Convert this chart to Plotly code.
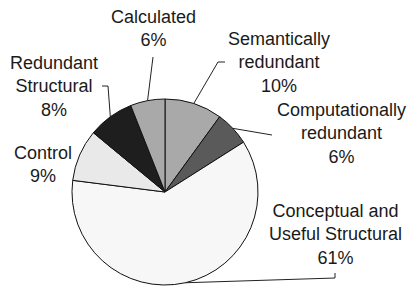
import math
import plotly.graph_objects as go

# ---- data (clockwise from 12 o'clock) ----
categories = ["Semantically<br>redundant", "Computationally<br>redundant",
              "Conceptual and<br>Useful Structural", "Control",
              "Redundant<br>Structural", "Calculated"]
values = [10, 6, 61, 9, 8, 6]
colors = ["#a9a9a9", "#5a5a5a", "#f7f7f7", "#e9e9e9", "#1e1e1e", "#a9a9a9"]

W, H = 409, 286
CX, CY, R = 165, 192, 93  # pie geometry in pixels

# label block centres (px) and leader-line extra points (px)
label_pos = [(279, 62), (341, 133), (335, 234), (43, 164), (54, 86), (153, 28)]
leader_pts = [[(218, 62), (225, 62)],
              [(272, 135)],
              [(335, 278), (335, 273)],
              None,
              [(108, 86), (102, 86)],
              [(153, 57)]]

total = sum(values)
fig = go.Figure()
fig.add_trace(go.Pie(
    values=values, labels=categories, sort=False, direction="clockwise",
    rotation=0, textinfo="none", hoverinfo="label+percent",
    marker=dict(colors=colors, line=dict(color="#111111", width=1)),
    domain=dict(x=[(CX - R) / W, (CX + R) / W],
                y=[(H - CY - R) / H, (H - CY + R) / H]),
    showlegend=False,
))

shapes = []
annotations = []
cum = 0
for cat, v, pos, pts in zip(categories, values, label_pos, leader_pts):
    mid = (cum + v / 2) / total * 2 * math.pi
    cum += v
    px = CX + R * math.sin(mid)
    py = CY - R * math.cos(mid)
    pct = round(v / total * 100)
    annotations.append(dict(
        x=pos[0], y=pos[1], xref="x", yref="y", text=f"{cat}<br>{pct}%",
        showarrow=False, xanchor="center", yanchor="middle", align="center",
        font=dict(family="Liberation Sans, Arial, sans-serif", size=18, color="#1a1a1a"),
    ))
    if pts:
        path = f"M{px},{py}" + "".join(f" L{x},{y}" for x, y in pts)
        shapes.append(dict(type="path", path=path, xref="x", yref="y",
                           line=dict(color="#222222", width=1), layer="above"))

fig.update_layout(
    width=W, height=H, margin=dict(l=0, r=0, t=0, b=0),
    paper_bgcolor="white", plot_bgcolor="rgba(0,0,0,0)",
    xaxis=dict(range=[0, W], visible=False, fixedrange=True, domain=[0, 1]),
    yaxis=dict(range=[H, 0], visible=False, fixedrange=True, domain=[0, 1]),
    shapes=shapes, annotations=annotations,
)
fig.write_html("out.html", config={"displayModeBar": False},
               post_script="document.body.style.margin='0';document.body.style.padding='0';")
